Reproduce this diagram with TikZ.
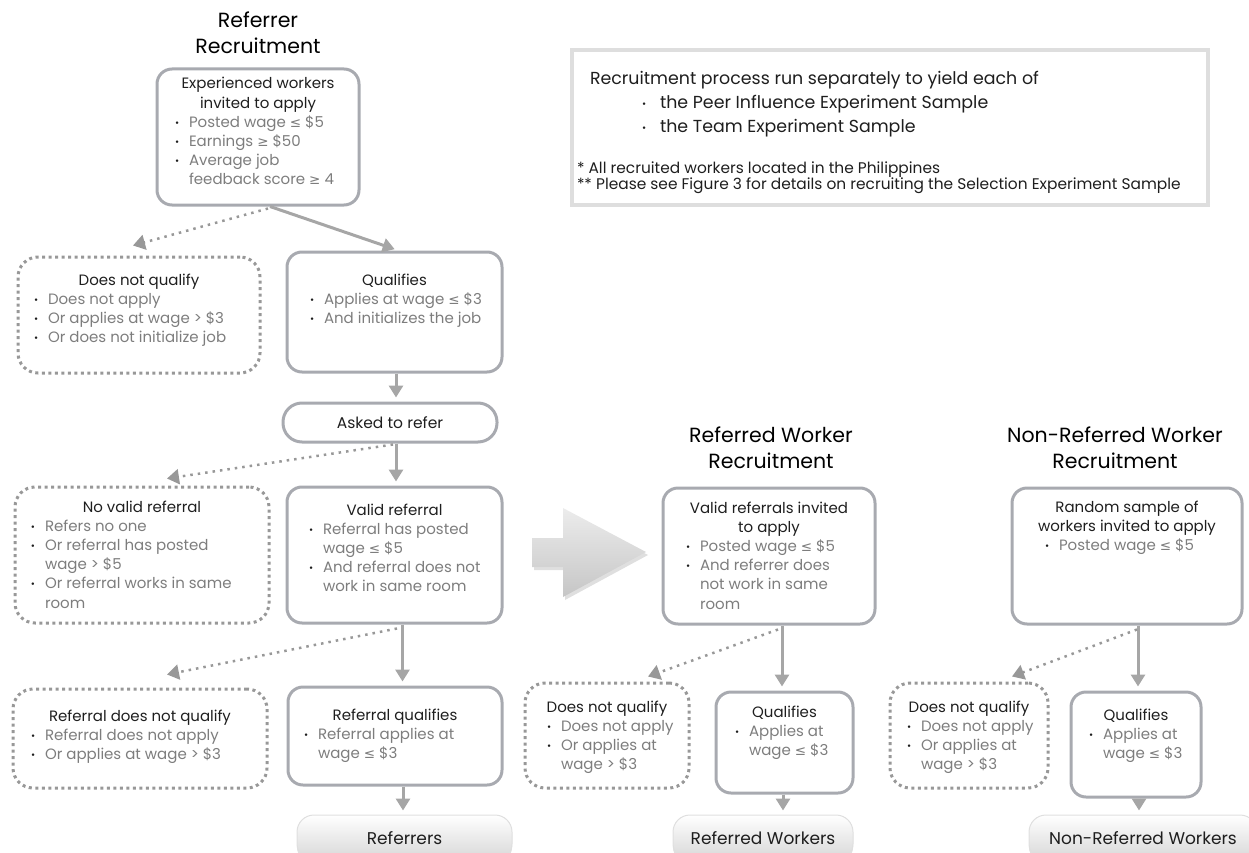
\documentclass[tikz,border=0pt]{standalone}
\usepackage{fontspec}
\setmainfont{Poppins}
\newfontfamily\symfont{DejaVu Sans}[Scale=0.9]
\usetikzlibrary{arrows.meta,shadows}

\definecolor{boxgray}{RGB}{168,170,176}
\definecolor{arrgray}{RGB}{166,166,166}
\definecolor{dotgray}{RGB}{152,152,152}
\definecolor{notegray}{RGB}{222,222,222}
\definecolor{headtxt}{RGB}{30,30,30}
\definecolor{itemtxt}{RGB}{125,125,125}

\newcommand{\lsym}{{\symfont ≤}}
\newcommand{\gsym}{{\symfont ≥}}
\newcommand{\bdot}{{\color{headtxt}\fontsize{10}{10}\selectfont\raisebox{1.2pt}{\textbullet}}}
\newcommand{\bitem}[1]{\par\noindent\hangindent=14pt\hangafter=1\makebox[14pt][l]{\bdot}\color{itemtxt}#1}
% width, height, first baseline, left pad, header, bullets
\newcommand{\cellbox}[6]{\begin{minipage}[t][#2][t]{#1}%
{\centering\leavevmode\color{headtxt}\rule{0pt}{#3}#5\par}%
\leftskip=#4\rightskip=0pt plus 1fil\relax#6\par
\end{minipage}}

\begin{document}
\begin{tikzpicture}[x=1pt,y=-1pt,
    box/.style={draw=boxgray, line width=3pt, rounded corners=15pt, inner sep=0pt,
      font=\fontsize{15}{19.2}\selectfont},
    nobox/.style={box, draw=dotgray, dash pattern=on 3pt off 3.5pt, rounded corners=20pt},
    ask/.style={rounded corners=19pt, minimum width=214pt, minimum height=39pt,
      font=\fontsize{15.5}{18}\selectfont, text=headtxt},
    pill/.style={draw=gray!25, line width=1pt, rounded corners=17pt, minimum height=46pt,
      top color=white, bottom color=gray!32, text=headtxt, font=\fontsize{17}{20}\selectfont,
      drop shadow={shadow xshift=0pt, shadow yshift=-3pt, opacity=.25}},
    title/.style={align=center, inner sep=0pt, anchor=north, font=\fontsize{20.5}{26}\selectfont},
    arr/.style={draw=arrgray, line width=3pt, shorten >=4pt, -{Triangle[width=14pt,length=12pt]}},
    darr/.style={draw=dotgray, line width=2.5pt, dash pattern=on 2.5pt off 5pt,
      -{Triangle[width=15pt,length=12pt]}}]
    \useasboundingbox (0,0) rectangle (1249,853);

    \node[title] (t1) at (258,7) {\rule{0pt}{20pt}Referrer\\Recruitment};
    \node[title] (t2) at (771,422) {\rule{0pt}{20pt}Referred Worker\\Recruitment};
    \node[title] (t3) at (1115,422) {\rule{0pt}{20pt}Non-Referred Worker\\Recruitment};

    \node[draw=notegray, line width=3.5pt, inner sep=0pt, text=headtxt,
      font=\fontsize{17.4}{24}\selectfont] (note) at (890,127.5) {\begin{minipage}[t][155pt][t]{636pt}
      \leftskip=18pt\rule{0pt}{35pt}Recruitment process run separately to yield each of\par
      \noindent\hspace*{52pt}\makebox[18pt][l]{\bdot}the Peer Influence Experiment Sample\par
      \noindent\hspace*{52pt}\makebox[18pt][l]{\bdot}the Team Experiment Sample\par
      \vspace{23pt}{\leftskip=5pt\fontsize{15.4}{16}\selectfont * All recruited workers located in the Philippines\par
      ** Please see Figure 3 for details on recruiting the Selection Experiment Sample\par}
      \end{minipage}};

    \node[box] (exp) at (258,137) {\cellbox{202pt}{136pt}{20pt}{18pt}{Experienced workers\\invited to apply}
      {\bitem{Posted wage \lsym{} \$5}\bitem{Earnings \gsym{} \$50}\bitem{Average job\\feedback score \gsym{} 4}}};
    \node[nobox] (dnq1) at (139,315) {\cellbox{242pt}{116pt}{28pt}{16pt}{Does not qualify}
      {\bitem{Does not apply}\bitem{Or applies at wage > \$3}\bitem{Or does not initialize job}}};
    \node[box] (q1) at (394.5,312) {\cellbox{215pt}{120pt}{33pt}{23pt}{Qualifies}
      {\bitem{Applies at wage \lsym{} \$3}\bitem{And initializes the job}}};
    \node[box, ask] (ask) at (390,422.5) {Asked to refer};
    \node[nobox] (nvr) at (142,555) {\cellbox{254pt}{136pt}{25pt}{16pt}{No valid referral}
      {\bitem{Refers no one}\bitem{Or referral has posted\\wage > \$5}\bitem{Or referral works in same\\room}}};
    \node[box] (vr) at (394.5,555) {\cellbox{215pt}{136pt}{28pt}{22pt}{Valid referral}
      {\bitem{Referral has posted\\wage \lsym{} \$5}\bitem{And referral does not\\work in same room}}};
    \node[nobox] (rdnq) at (140,738.5) {\cellbox{254pt}{99pt}{32pt}{18pt}{Referral does not qualify}
      {\bitem{Referral does not apply}\bitem{Or applies at wage > \$3}}};
    \node[box] (rq) at (395,736) {\cellbox{214pt}{98pt}{33pt}{16pt}{Referral qualifies}
      {\bitem{Referral applies at\\wage \lsym{} \$3}}};
    \node[pill, minimum width=215pt] (refs) at (404.5,838) {Referrers};

    \path[drop shadow={shadow xshift=2pt, shadow yshift=-3pt, opacity=.25}, top color=gray!15, bottom color=gray!45]
      (532,538) -- (563,538) -- (563,508) -- (646,552) -- (563,597) -- (563,567) -- (532,567) -- cycle;

    \node[box] (vri) at (769,556) {\cellbox{212pt}{136pt}{25pt}{23pt}{Valid referrals invited\\to apply}
      {\bitem{Posted wage \lsym{} \$5}\bitem{And referrer does\\not work in same\\room}}};
    \node[nobox] (dnq2) at (607,735.5) {\cellbox{164pt}{105pt}{29pt}{22pt}{Does not qualify}
      {\bitem{Does not apply}\bitem{Or applies at\\wage > \$3}}};
    \node[box] (q2) at (784.5,742.5) {\cellbox{137pt}{101pt}{25pt}{19pt}{Qualifies}
      {\bitem{Applies at\\wage \lsym{} \$3}}};
    \node[pill, minimum width=180pt] (rw) at (763,838) {Referred Workers};

    \node[box] (rsw) at (1127,556) {\cellbox{230pt}{136pt}{24pt}{33pt}{Random sample of\\workers invited to apply}
      {\bitem{Posted wage \lsym{} \$5}}};
    \node[nobox] (dnq3) at (969,735.5) {\cellbox{158pt}{105pt}{29pt}{17pt}{Does not qualify}
      {\bitem{Does not apply}\bitem{Or applies at\\wage > \$3}}};
    \node[box] (q3) at (1136,744.5) {\cellbox{130pt}{105pt}{28pt}{18pt}{Qualifies}
      {\bitem{Applies at\\wage \lsym{} \$3}}};
    \node[pill, minimum width=228pt] (nrw) at (1143,838) {Non-Referred Workers};

    \draw[arr] ([xshift=12pt]exp.south) -- ([xshift=4pt]q1.north);
    \draw[darr] ([xshift=10pt,yshift=-2pt]exp.south) -- ([xshift=-6pt,yshift=10pt]dnq1.north);
    \draw[arr] ([xshift=1.5pt]q1.south) -- ([xshift=1.5pt]q1.south |- ask.north);
    \draw[arr] ([xshift=1.5pt]vr.north |- ask.south) -- ([xshift=1.5pt]vr.north);
    \draw[darr] ([xshift=3pt,yshift=-1pt]ask.south) -- ([xshift=25pt,yshift=7pt]nvr.north);
    \draw[arr] ([xshift=8pt]vr.south) -- ([xshift=8pt]vr.south |- rq.north);
    \draw[darr] ([xshift=2.5pt,yshift=-4pt]vr.south) -- ([xshift=27pt,yshift=13pt]rdnq.north);
    \draw[arr] ([xshift=-1.5pt]refs.north |- rq.south) -- ([xshift=-1.5pt]refs.north);
    \draw[arr] ([xshift=-2.5pt]q2.north |- vri.south) -- ([xshift=-2.5pt]q2.north);
    \draw[darr] ([xshift=9pt,yshift=-4pt]vri.south) -- ([xshift=41pt,yshift=5pt]dnq2.north);
    \draw[arr] ([xshift=-1.5pt]q2.south) -- ([xshift=-1.5pt]q2.south |- rw.north);
    \draw[arr] ([xshift=11pt]rsw.south) -- ([xshift=11pt]rsw.south |- q3.north);
    \draw[darr] ([xshift=10pt,yshift=-4pt]rsw.south) -- ([xshift=43pt,yshift=5pt]dnq3.north);
    \draw[arr] ([xshift=3pt]q3.south) -- ([xshift=3pt]q3.south |- nrw.north);
\end{tikzpicture}
\end{document}
